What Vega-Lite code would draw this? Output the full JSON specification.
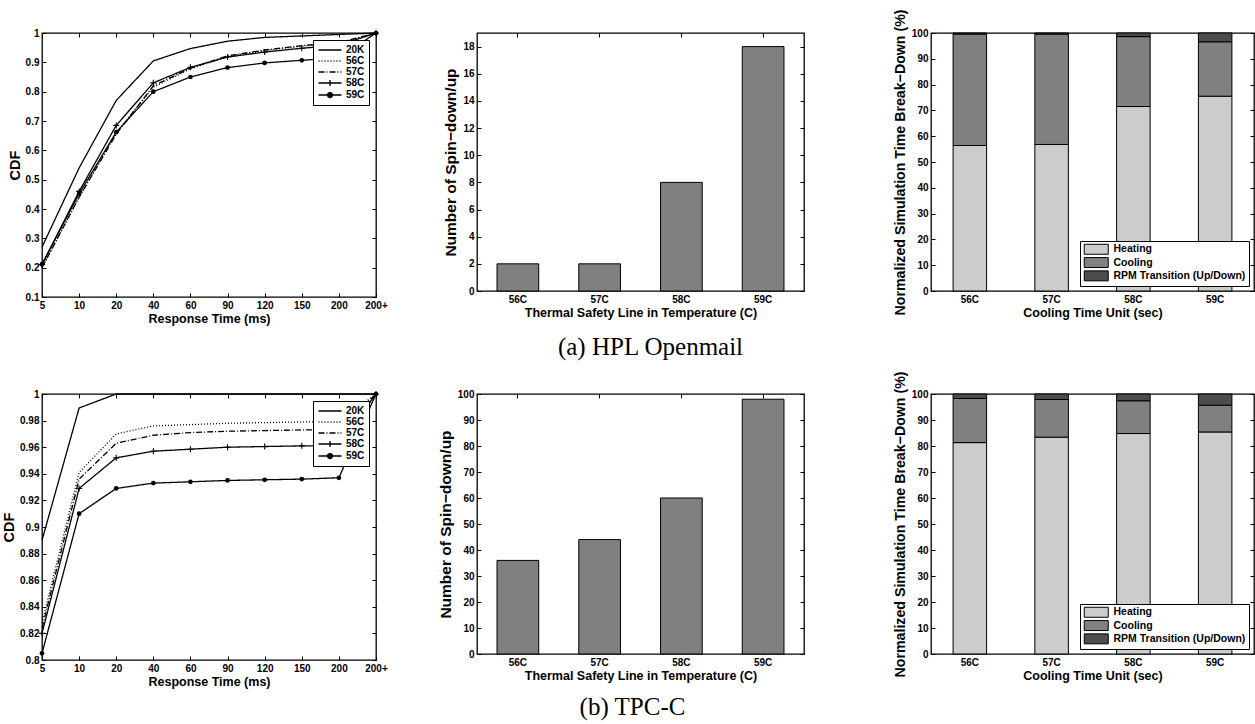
{
  "$schema": "https://vega.github.io/schema/vega-lite/v6.json",
  "background": "white",
  "padding": {"left": 0, "top": 8, "right": 0, "bottom": 0},
  "config": {
    "font": "Liberation Sans",
    "view": {"stroke": "black", "strokeWidth": 1.3},
    "axis": {"grid": false, "domain": false, "ticks": true, "tickColor": "black", "tickSize": -4, "tickWidth": 1, "labelPadding": 7, "labelFont": "Liberation Sans", "labelFontWeight": "bold", "labelFontSize": 10, "labelColor": "black", "titleFont": "Liberation Sans", "titleFontWeight": "bold", "titleFontSize": 12.5, "titleColor": "black", "labelFlush": false, "labelOverlap": false},
    "axisX": {"titlePadding": 2, "labelAngle": 0},
    "axisY": {"titlePadding": 3, "titleFontSize": 14.5},
    "legend": {"labelFont": "Liberation Sans", "labelFontWeight": "bold", "labelFontSize": 10, "labelColor": "black", "strokeColor": "black", "fillColor": "white", "padding": 4, "rowPadding": 0, "cornerRadius": 0},
    "title": {"font": "Liberation Serif", "fontWeight": "normal", "fontSize": 25, "color": "black"}
  },
  "datasets": {
    "cdfA": [
      {"s":"20K","t":"5","i":0,"v":0.27},{"s":"20K","t":"10","i":1,"v":0.54},{"s":"20K","t":"20","i":2,"v":0.77},{"s":"20K","t":"40","i":3,"v":0.905},{"s":"20K","t":"60","i":4,"v":0.947},{"s":"20K","t":"90","i":5,"v":0.972},{"s":"20K","t":"120","i":6,"v":0.985},{"s":"20K","t":"150","i":7,"v":0.99},{"s":"20K","t":"200","i":8,"v":0.995},{"s":"20K","t":"200+","i":9,"v":1},
      {"s":"56C","t":"5","i":0,"v":0.2},{"s":"56C","t":"10","i":1,"v":0.44},{"s":"56C","t":"20","i":2,"v":0.66},{"s":"56C","t":"40","i":3,"v":0.815},{"s":"56C","t":"60","i":4,"v":0.878},{"s":"56C","t":"90","i":5,"v":0.92},{"s":"56C","t":"120","i":6,"v":0.94},{"s":"56C","t":"150","i":7,"v":0.955},{"s":"56C","t":"200","i":8,"v":0.965},{"s":"56C","t":"200+","i":9,"v":1},
      {"s":"57C","t":"5","i":0,"v":0.2},{"s":"57C","t":"10","i":1,"v":0.44},{"s":"57C","t":"20","i":2,"v":0.655},{"s":"57C","t":"40","i":3,"v":0.82},{"s":"57C","t":"60","i":4,"v":0.88},{"s":"57C","t":"90","i":5,"v":0.922},{"s":"57C","t":"120","i":6,"v":0.942},{"s":"57C","t":"150","i":7,"v":0.957},{"s":"57C","t":"200","i":8,"v":0.967},{"s":"57C","t":"200+","i":9,"v":1},
      {"s":"58C","t":"5","i":0,"v":0.21},{"s":"58C","t":"10","i":1,"v":0.46},{"s":"58C","t":"20","i":2,"v":0.685},{"s":"58C","t":"40","i":3,"v":0.83},{"s":"58C","t":"60","i":4,"v":0.883},{"s":"58C","t":"90","i":5,"v":0.918},{"s":"58C","t":"120","i":6,"v":0.935},{"s":"58C","t":"150","i":7,"v":0.948},{"s":"58C","t":"200","i":8,"v":0.958},{"s":"58C","t":"200+","i":9,"v":1},
      {"s":"59C","t":"5","i":0,"v":0.212},{"s":"59C","t":"10","i":1,"v":0.452},{"s":"59C","t":"20","i":2,"v":0.662},{"s":"59C","t":"40","i":3,"v":0.8},{"s":"59C","t":"60","i":4,"v":0.85},{"s":"59C","t":"90","i":5,"v":0.882},{"s":"59C","t":"120","i":6,"v":0.898},{"s":"59C","t":"150","i":7,"v":0.907},{"s":"59C","t":"200","i":8,"v":0.915},{"s":"59C","t":"200+","i":9,"v":1}
    ],
    "cdfB": [
      {"s":"20K","t":"5","i":0,"v":0.89},{"s":"20K","t":"10","i":1,"v":0.9895},{"s":"20K","t":"20","i":2,"v":1},{"s":"20K","t":"40","i":3,"v":1},{"s":"20K","t":"60","i":4,"v":1},{"s":"20K","t":"90","i":5,"v":1},{"s":"20K","t":"120","i":6,"v":1},{"s":"20K","t":"150","i":7,"v":1},{"s":"20K","t":"200","i":8,"v":1},{"s":"20K","t":"200+","i":9,"v":1},
      {"s":"56C","t":"5","i":0,"v":0.828},{"s":"56C","t":"10","i":1,"v":0.941},{"s":"56C","t":"20","i":2,"v":0.97},{"s":"56C","t":"40","i":3,"v":0.976},{"s":"56C","t":"60","i":4,"v":0.977},{"s":"56C","t":"90","i":5,"v":0.978},{"s":"56C","t":"120","i":6,"v":0.9785},{"s":"56C","t":"150","i":7,"v":0.979},{"s":"56C","t":"200","i":8,"v":0.979},{"s":"56C","t":"200+","i":9,"v":1},
      {"s":"57C","t":"5","i":0,"v":0.824},{"s":"57C","t":"10","i":1,"v":0.936},{"s":"57C","t":"20","i":2,"v":0.963},{"s":"57C","t":"40","i":3,"v":0.969},{"s":"57C","t":"60","i":4,"v":0.971},{"s":"57C","t":"90","i":5,"v":0.972},{"s":"57C","t":"120","i":6,"v":0.9725},{"s":"57C","t":"150","i":7,"v":0.973},{"s":"57C","t":"200","i":8,"v":0.973},{"s":"57C","t":"200+","i":9,"v":1},
      {"s":"58C","t":"5","i":0,"v":0.82},{"s":"58C","t":"10","i":1,"v":0.929},{"s":"58C","t":"20","i":2,"v":0.952},{"s":"58C","t":"40","i":3,"v":0.957},{"s":"58C","t":"60","i":4,"v":0.9585},{"s":"58C","t":"90","i":5,"v":0.96},{"s":"58C","t":"120","i":6,"v":0.9605},{"s":"58C","t":"150","i":7,"v":0.961},{"s":"58C","t":"200","i":8,"v":0.961},{"s":"58C","t":"200+","i":9,"v":1},
      {"s":"59C","t":"5","i":0,"v":0.805},{"s":"59C","t":"10","i":1,"v":0.91},{"s":"59C","t":"20","i":2,"v":0.929},{"s":"59C","t":"40","i":3,"v":0.933},{"s":"59C","t":"60","i":4,"v":0.934},{"s":"59C","t":"90","i":5,"v":0.935},{"s":"59C","t":"120","i":6,"v":0.9355},{"s":"59C","t":"150","i":7,"v":0.936},{"s":"59C","t":"200","i":8,"v":0.937},{"s":"59C","t":"200+","i":9,"v":1}
    ],
    "spinA": [{"t":"56C","n":2},{"t":"57C","n":2},{"t":"58C","n":8},{"t":"59C","n":18}],
    "spinB": [{"t":"56C","n":36},{"t":"57C","n":44},{"t":"58C","n":60},{"t":"59C","n":98}],
    "brkA": [
      {"t":"56C","c":"Heating","o":1,"p":56.4},{"t":"56C","c":"Cooling","o":2,"p":43.2},{"t":"56C","c":"RPM Transition (Up/Down)","o":3,"p":0.4},
      {"t":"57C","c":"Heating","o":1,"p":56.8},{"t":"57C","c":"Cooling","o":2,"p":42.8},{"t":"57C","c":"RPM Transition (Up/Down)","o":3,"p":0.4},
      {"t":"58C","c":"Heating","o":1,"p":71.5},{"t":"58C","c":"Cooling","o":2,"p":27.1},{"t":"58C","c":"RPM Transition (Up/Down)","o":3,"p":1.4},
      {"t":"59C","c":"Heating","o":1,"p":75.5},{"t":"59C","c":"Cooling","o":2,"p":21.1},{"t":"59C","c":"RPM Transition (Up/Down)","o":3,"p":3.4}
    ],
    "brkB": [
      {"t":"56C","c":"Heating","o":1,"p":81.3},{"t":"56C","c":"Cooling","o":2,"p":17.0},{"t":"56C","c":"RPM Transition (Up/Down)","o":3,"p":1.7},
      {"t":"57C","c":"Heating","o":1,"p":83.4},{"t":"57C","c":"Cooling","o":2,"p":14.5},{"t":"57C","c":"RPM Transition (Up/Down)","o":3,"p":2.1},
      {"t":"58C","c":"Heating","o":1,"p":84.8},{"t":"58C","c":"Cooling","o":2,"p":12.6},{"t":"58C","c":"RPM Transition (Up/Down)","o":3,"p":2.6},
      {"t":"59C","c":"Heating","o":1,"p":85.4},{"t":"59C","c":"Cooling","o":2,"p":10.3},{"t":"59C","c":"RPM Transition (Up/Down)","o":3,"p":4.3}
    ]
  },
  "columns": 5,
  "spacing": {"row": 97, "column": 0},
  "bounds": "flush",
  "resolve": {"scale": {"strokeDash": "independent", "fill": "independent"}, "legend": {"strokeDash": "independent", "fill": "independent"}},
  "concat": [
    {
      "width": 334, "height": 264,
      "data": {"name": "cdfA"},
      "resolve": {"axis": {"x": "independent", "y": "independent"}},
      "layer": [
        {"mark": {"type": "line", "color": "black", "strokeWidth": 1.3},
         "encoding": {
           "x": {"field": "t", "type": "ordinal", "sort": ["5","10","20","40","60","90","120","150","200","200+"], "scale": {"type": "point", "padding": 0}, "axis": {"title": "Response Time (ms)"}},
           "y": {"field": "v", "type": "quantitative", "scale": {"domain": [0.1, 1], "nice": false, "zero": false}, "axis": {"title": "CDF", "values": [0.1,0.2,0.3,0.4,0.5,0.6,0.7,0.8,0.9,1], "format": ".2~f"}},
           "order": {"field": "i", "type": "quantitative"},
           "strokeDash": {"field": "s", "type": "nominal", "scale": {"domain": ["20K","56C","57C","58C","59C"], "range": [[1,0],[1,2],[6,2,1,2],[1,0],[1,0]]},
           "legend": {"title": null, "orient": "top-right", "offset": 7, "symbolType": "stroke", "symbolSize": 100, "symbolStrokeWidth": 1.3, "symbolStrokeColor": "black", "symbolOffset": 7, "labelOffset": 10, "rowPadding": -1.5,
             "encode": {"symbols": {"update": {"shape": {"signal": "datum.value === '58C' ? 'M-2.3,0H2.3M0,-0.6V0.6' : datum.value === '59C' ? 'M-2.3,0H2.3M0.5,0A0.5,0.5,0,1,1,-0.5,0A0.5,0.5,0,1,1,0.5,0Z' : 'M-2.3,0H2.3'"}, "fill": {"signal": "datum.value === '59C' ? 'black' : 'transparent'"}, "stroke": {"value": "black"}}}}}}}},
        {"transform": [{"filter": "datum.s === '58C'"}], "mark": {"type": "point", "shape": "M0,-1V1M-1,0H1", "size": 36, "filled": false, "color": "black", "strokeWidth": 1.1, "opacity": 1},
         "encoding": {"x": {"field": "t", "type": "ordinal", "sort": ["5","10","20","40","60","90","120","150","200","200+"], "axis": null}, "y": {"field": "v", "type": "quantitative", "axis": null}}},
        {"transform": [{"filter": "datum.s === '59C'"}], "mark": {"type": "point", "shape": "circle", "size": 22, "filled": true, "color": "black", "opacity": 1},
         "encoding": {"x": {"field": "t", "type": "ordinal", "sort": ["5","10","20","40","60","90","120","150","200","200+"], "axis": null}, "y": {"field": "v", "type": "quantitative", "axis": null}}},
        {"mark": {"type": "point", "opacity": 0},
         "encoding": {"x": {"field": "t", "type": "ordinal", "sort": ["5","10","20","40","60","90","120","150","200","200+"], "axis": {"orient": "top", "labels": false, "title": null}}, "y": {"field": "v", "type": "quantitative", "axis": {"orient": "right", "labels": false, "title": null, "values": [0.1,0.2,0.3,0.4,0.5,0.6,0.7,0.8,0.9,1]}}}}
      ]
    },
    {"width": 101, "height": 10, "data": {"values": [{"a": 1}]}, "mark": {"type": "text", "text": ""}, "encoding": {}, "view": {"stroke": null}},
    {
      "width": 327, "height": 258,
      "data": {"name": "spinA"},
      "resolve": {"axis": {"x": "independent", "y": "independent"}},
      "layer": [
        {"mark": {"type": "bar", "color": "#808080", "stroke": "black", "strokeWidth": 1},
         "encoding": {
           "x": {"field": "t", "type": "nominal", "scale": {"paddingInner": 0.49, "paddingOuter": 0.245}, "axis": {"title": "Thermal Safety Line in Temperature (C)"}},
           "y": {"field": "n", "type": "quantitative", "scale": {"domain": [0, 19], "nice": false}, "axis": {"title": "Number of Spin−down/up", "titleFontSize": 15.5, "titlePadding": 4, "values": [0,2,4,6,8,10,12,14,16,18]}}}},
        {"mark": {"type": "bar", "opacity": 0},
         "encoding": {
           "x": {"field": "t", "type": "nominal", "axis": {"orient": "top", "labels": false, "title": null}},
           "y": {"field": "n", "type": "quantitative", "axis": {"orient": "right", "labels": false, "title": null, "values": [0,2,4,6,8,10,12,14,16,18]}}}}
      ],
      "title": {"text": "(a) HPL Openmail", "orient": "bottom", "offset": 16, "dx": 10}
    },
    {"width": 127, "height": 10, "data": {"values": [{"a": 1}]}, "mark": {"type": "text", "text": ""}, "encoding": {}, "view": {"stroke": null}},
    {
      "width": 323, "height": 258,
      "data": {"name": "brkA"},
      "resolve": {"axis": {"x": "independent", "y": "independent"}},
      "layer": [
        {"mark": {"type": "bar", "stroke": "black", "strokeWidth": 1},
         "encoding": {
           "x": {"field": "t", "type": "nominal", "scale": {"paddingInner": 0.59, "paddingOuter": 0.27}, "axis": {"title": "Cooling Time Unit (sec)"}},
           "y": {"field": "p", "type": "quantitative", "stack": "zero", "scale": {"domain": [0, 100], "nice": false}, "axis": {"title": "Normalized Simulation Time Break−Down (%)", "titleFontSize": 14.2, "titlePadding": 4, "values": [0,10,20,30,40,50,60,70,80,90,100]}},
           "fill": {"field": "c", "type": "nominal", "sort": ["Heating","Cooling","RPM Transition (Up/Down)"], "scale": {"domain": ["Heating","Cooling","RPM Transition (Up/Down)"], "range": ["#cccccc","#808080","#4d4d4d"]},
             "legend": {"title": null, "orient": "bottom-right", "offset": 5, "symbolType": "M-3,-1.25H3V1.25H-3Z", "symbolSize": 64, "symbolStrokeColor": "black", "symbolStrokeWidth": 1, "symbolOffset": 8, "labelOffset": 12, "labelFontSize": 10.5, "padding": 3, "rowPadding": -1.7}},
           "order": {"field": "o", "type": "quantitative"}}},
        {"mark": {"type": "bar", "opacity": 0},
         "encoding": {
           "x": {"field": "t", "type": "nominal", "axis": {"orient": "top", "labels": false, "title": null}},
           "y": {"field": "p", "type": "quantitative", "stack": "zero", "axis": {"orient": "right", "labels": false, "title": null, "values": [0,10,20,30,40,50,60,70,80,90,100]}}}}
      ]
    },
    {
      "width": 334, "height": 266,
      "data": {"name": "cdfB"},
      "resolve": {"axis": {"x": "independent", "y": "independent"}},
      "layer": [
        {"mark": {"type": "line", "color": "black", "strokeWidth": 1.3},
         "encoding": {
           "x": {"field": "t", "type": "ordinal", "sort": ["5","10","20","40","60","90","120","150","200","200+"], "scale": {"type": "point", "padding": 0}, "axis": {"title": "Response Time (ms)"}},
           "y": {"field": "v", "type": "quantitative", "scale": {"domain": [0.8, 1], "nice": false, "zero": false}, "axis": {"title": "CDF", "values": [0.8,0.82,0.84,0.86,0.88,0.9,0.92,0.94,0.96,0.98,1], "format": ".2~f"}},
           "order": {"field": "i", "type": "quantitative"},
           "strokeDash": {"field": "s", "type": "nominal", "scale": {"domain": ["20K","56C","57C","58C","59C"], "range": [[1,0],[1,2],[6,2,1,2],[1,0],[1,0]]},
           "legend": {"title": null, "orient": "top-right", "offset": 7, "symbolType": "stroke", "symbolSize": 100, "symbolStrokeWidth": 1.3, "symbolStrokeColor": "black", "symbolOffset": 7, "labelOffset": 10, "rowPadding": -1.5,
             "encode": {"symbols": {"update": {"shape": {"signal": "datum.value === '58C' ? 'M-2.3,0H2.3M0,-0.6V0.6' : datum.value === '59C' ? 'M-2.3,0H2.3M0.5,0A0.5,0.5,0,1,1,-0.5,0A0.5,0.5,0,1,1,0.5,0Z' : 'M-2.3,0H2.3'"}, "fill": {"signal": "datum.value === '59C' ? 'black' : 'transparent'"}, "stroke": {"value": "black"}}}}}}}},
        {"transform": [{"filter": "datum.s === '58C'"}], "mark": {"type": "point", "shape": "M0,-1V1M-1,0H1", "size": 36, "filled": false, "color": "black", "strokeWidth": 1.1, "opacity": 1},
         "encoding": {"x": {"field": "t", "type": "ordinal", "sort": ["5","10","20","40","60","90","120","150","200","200+"], "axis": null}, "y": {"field": "v", "type": "quantitative", "axis": null}}},
        {"transform": [{"filter": "datum.s === '59C'"}], "mark": {"type": "point", "shape": "circle", "size": 22, "filled": true, "color": "black", "opacity": 1},
         "encoding": {"x": {"field": "t", "type": "ordinal", "sort": ["5","10","20","40","60","90","120","150","200","200+"], "axis": null}, "y": {"field": "v", "type": "quantitative", "axis": null}}},
        {"mark": {"type": "point", "opacity": 0},
         "encoding": {"x": {"field": "t", "type": "ordinal", "sort": ["5","10","20","40","60","90","120","150","200","200+"], "axis": {"orient": "top", "labels": false, "title": null}}, "y": {"field": "v", "type": "quantitative", "axis": {"orient": "right", "labels": false, "title": null, "values": [0.8,0.82,0.84,0.86,0.88,0.9,0.92,0.94,0.96,0.98,1]}}}}
      ]
    },
    {"width": 101, "height": 10, "data": {"values": [{"a": 1}]}, "mark": {"type": "text", "text": ""}, "encoding": {}, "view": {"stroke": null}},
    {
      "width": 327, "height": 260,
      "data": {"name": "spinB"},
      "resolve": {"axis": {"x": "independent", "y": "independent"}},
      "layer": [
        {"mark": {"type": "bar", "color": "#808080", "stroke": "black", "strokeWidth": 1},
         "encoding": {
           "x": {"field": "t", "type": "nominal", "scale": {"paddingInner": 0.49, "paddingOuter": 0.245}, "axis": {"title": "Thermal Safety Line in Temperature (C)"}},
           "y": {"field": "n", "type": "quantitative", "scale": {"domain": [0, 100], "nice": false}, "axis": {"title": "Number of Spin−down/up", "titleFontSize": 15.5, "titlePadding": 4, "values": [0,10,20,30,40,50,60,70,80,90,100]}}}},
        {"mark": {"type": "bar", "opacity": 0},
         "encoding": {
           "x": {"field": "t", "type": "nominal", "axis": {"orient": "top", "labels": false, "title": null}},
           "y": {"field": "n", "type": "quantitative", "axis": {"orient": "right", "labels": false, "title": null, "values": [0,10,20,30,40,50,60,70,80,90,100]}}}}
      ],
      "title": {"text": "(b) TPC-C", "orient": "bottom", "offset": 13, "dx": -8}
    },
    {"width": 127, "height": 10, "data": {"values": [{"a": 1}]}, "mark": {"type": "text", "text": ""}, "encoding": {}, "view": {"stroke": null}},
    {
      "width": 323, "height": 260,
      "data": {"name": "brkB"},
      "resolve": {"axis": {"x": "independent", "y": "independent"}},
      "layer": [
        {"mark": {"type": "bar", "stroke": "black", "strokeWidth": 1},
         "encoding": {
           "x": {"field": "t", "type": "nominal", "scale": {"paddingInner": 0.59, "paddingOuter": 0.27}, "axis": {"title": "Cooling Time Unit (sec)"}},
           "y": {"field": "p", "type": "quantitative", "stack": "zero", "scale": {"domain": [0, 100], "nice": false}, "axis": {"title": "Normalized Simulation Time Break−Down (%)", "titleFontSize": 14.2, "titlePadding": 4, "values": [0,10,20,30,40,50,60,70,80,90,100]}},
           "fill": {"field": "c", "type": "nominal", "sort": ["Heating","Cooling","RPM Transition (Up/Down)"], "scale": {"domain": ["Heating","Cooling","RPM Transition (Up/Down)"], "range": ["#cccccc","#808080","#4d4d4d"]},
             "legend": {"title": null, "orient": "bottom-right", "offset": 5, "symbolType": "M-3,-1.25H3V1.25H-3Z", "symbolSize": 64, "symbolStrokeColor": "black", "symbolStrokeWidth": 1, "symbolOffset": 8, "labelOffset": 12, "labelFontSize": 10.5, "padding": 3, "rowPadding": -1.7}},
           "order": {"field": "o", "type": "quantitative"}}},
        {"mark": {"type": "bar", "opacity": 0},
         "encoding": {
           "x": {"field": "t", "type": "nominal", "axis": {"orient": "top", "labels": false, "title": null}},
           "y": {"field": "p", "type": "quantitative", "stack": "zero", "axis": {"orient": "right", "labels": false, "title": null, "values": [0,10,20,30,40,50,60,70,80,90,100]}}}}
      ]
    }
  ]
}
